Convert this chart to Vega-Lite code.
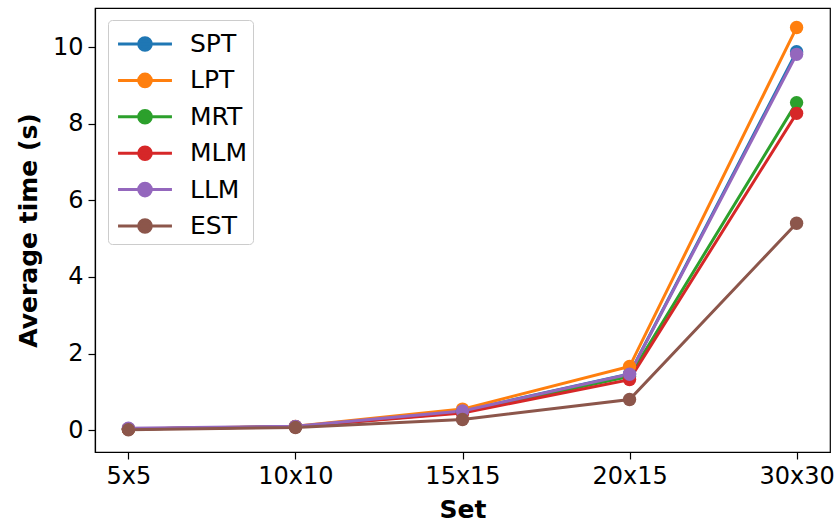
{
  "$schema": "https://vega.github.io/schema/vega-lite/v6.json",
  "autosize": {"type": "none"},
  "padding": {"left": 95, "top": 8, "right": 8, "bottom": 71},
  "width": 735,
  "height": 444,
  "background": "white",
  "data": {
    "values": [
      {"set": "5x5", "method": "SPT", "time": 0.03},
      {"set": "10x10", "method": "SPT", "time": 0.09},
      {"set": "15x15", "method": "SPT", "time": 0.5},
      {"set": "20x15", "method": "SPT", "time": 1.47},
      {"set": "30x30", "method": "SPT", "time": 9.88},
      {"set": "5x5", "method": "LPT", "time": 0.03},
      {"set": "10x10", "method": "LPT", "time": 0.1},
      {"set": "15x15", "method": "LPT", "time": 0.55},
      {"set": "20x15", "method": "LPT", "time": 1.66},
      {"set": "30x30", "method": "LPT", "time": 10.51},
      {"set": "5x5", "method": "MRT", "time": 0.03},
      {"set": "10x10", "method": "MRT", "time": 0.09},
      {"set": "15x15", "method": "MRT", "time": 0.47},
      {"set": "20x15", "method": "MRT", "time": 1.4},
      {"set": "30x30", "method": "MRT", "time": 8.55},
      {"set": "5x5", "method": "MLM", "time": 0.03},
      {"set": "10x10", "method": "MLM", "time": 0.09},
      {"set": "15x15", "method": "MLM", "time": 0.45},
      {"set": "20x15", "method": "MLM", "time": 1.32},
      {"set": "30x30", "method": "MLM", "time": 8.27},
      {"set": "5x5", "method": "LLM", "time": 0.05},
      {"set": "10x10", "method": "LLM", "time": 0.1},
      {"set": "15x15", "method": "LLM", "time": 0.5},
      {"set": "20x15", "method": "LLM", "time": 1.46},
      {"set": "30x30", "method": "LLM", "time": 9.81},
      {"set": "5x5", "method": "EST", "time": 0.01},
      {"set": "10x10", "method": "EST", "time": 0.07},
      {"set": "15x15", "method": "EST", "time": 0.28},
      {"set": "20x15", "method": "EST", "time": 0.8},
      {"set": "30x30", "method": "EST", "time": 5.4}
    ]
  },
  "encoding": {
    "x": {
      "field": "set",
      "type": "ordinal",
      "sort": ["5x5", "10x10", "15x15", "20x15", "30x30"],
      "scale": {"type": "point", "padding": 0.2},
      "axis": {"title": "Set", "labelAngle": 0}
    },
    "y": {
      "field": "time",
      "type": "quantitative",
      "scale": {"domain": [-0.57, 11.02], "nice": false, "zero": false},
      "axis": {"title": "Average time (s)", "values": [0, 2, 4, 6, 8, 10]}
    },
    "color": {
      "field": "method",
      "type": "nominal",
      "sort": ["SPT", "LPT", "MRT", "MLM", "LLM", "EST"],
      "scale": {
        "domain": ["SPT", "LPT", "MRT", "MLM", "LLM", "EST"],
        "range": ["#1f77b4", "#ff7f0e", "#2ca02c", "#d62728", "#9467bd", "#8c564b"]
      },
      "legend": {
        "title": null,
        "orient": "none",
        "legendX": 13,
        "legendY": 12,
        "symbolType": "M-1.54,0L1.54,0M0.36,0A0.36,0.36,0,1,1,-0.36,0A0.36,0.36,0,1,1,0.36,0Z",
        "symbolSize": 1225,
        "symbolStrokeWidth": 3,
        "symbolOffset": 13,
        "labelOffset": 26,
        "labelFontSize": 25,
        "rowPadding": 4.4,
        "padding": 5,
        "strokeColor": "#cccccc",
        "fillColor": "white",
        "cornerRadius": 4
      }
    }
  },
  "layer": [
    {"mark": {"type": "line", "strokeWidth": 3}},
    {"mark": {"type": "point", "filled": true, "size": 180, "opacity": 1}}
  ],
  "config": {
    "font": "DejaVu Sans",
    "view": {"stroke": "black", "strokeWidth": 1.2},
    "axis": {
      "grid": false,
      "domainColor": "black",
      "domainWidth": 1.2,
      "tickColor": "black",
      "tickWidth": 1.2,
      "tickSize": 7,
      "labelColor": "black",
      "labelFontSize": 24,
      "labelPadding": 5,
      "titleColor": "black",
      "titleFontSize": 25,
      "titleFontWeight": "bold"
    },
    "axisY": {"titlePadding": 11},
    "axisX": {"titlePadding": 9},
    "legend": {"labelColor": "black", "labelFont": "DejaVu Sans"}
  }
}
